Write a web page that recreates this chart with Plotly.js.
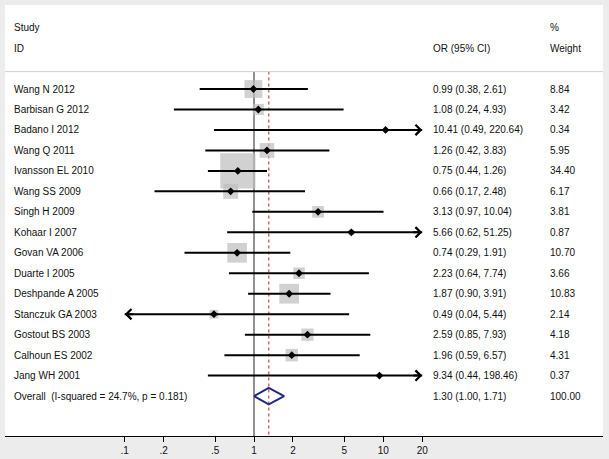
<!DOCTYPE html>
<html>
<head>
<meta charset="utf-8">
<script src="https://cdn.plot.ly/plotly-3.0.1.min.js"></script>
<style>html,body{margin:0;padding:0;background:#ececec;}</style>
</head>
<body>
<div id="chart" style="width:609px;height:459px;"></div>
<script>
// ---- data ----
const studies = ["Wang N 2012","Barbisan G 2012","Badano I 2012","Wang Q 2011","Ivansson EL 2010","Wang SS 2009","Singh H 2009","Kohaar I 2007","Govan VA 2006","Duarte I 2005","Deshpande A 2005","Stanczuk GA 2003","Gostout BS 2003","Calhoun ES 2002","Jang WH 2001"];
const oddsRatio = [0.99,1.08,10.41,1.26,0.75,0.66,3.13,5.66,0.74,2.23,1.87,0.49,2.59,1.96,9.34];
const ciLower   = [0.38,0.24,0.49,0.42,0.44,0.17,0.97,0.62,0.29,0.64,0.90,0.04,0.85,0.59,0.44];
const ciUpper   = [2.61,4.93,220.64,3.83,1.26,2.48,10.04,51.25,1.91,7.74,3.91,5.44,7.93,6.57,198.46];
const weights   = [8.84,3.42,0.34,5.95,34.40,6.17,3.81,0.87,10.70,3.66,10.83,2.14,4.18,4.31,0.37];
const overallLabel = "Overall\u00a0\u00a0(I-squared = 24.7%, p = 0.181)";
const overallOR = 1.30, overallLower = 1.00, overallUpper = 1.71, overallWeight = 100.00;
const tickVals = [0.1,0.2,0.5,1,2,5,10,20];
const tickText = [".1",".2",".5","1","2","5","10","20"];
const axisMin = 0.1, axisMax = 20;

// ---- geometry ----
const W = 609, H = 459;
const M = {l:5, r:6, t:5, b:23};
const plotW = W - M.l - M.r;
const px2paper = p => (p - M.l) / plotW;
const yTop = -4.104, yBottom = 16.95;
const xRange = [-1.9258, 2.6991];
const sepY = -0.85;
const font = {family:"Liberation Sans, Arial, sans-serif", size:10, color:"#111"};
const nRows = studies.length;
const rowY = studies.map((_, i) => i);
const overallY = nRows;

const traces = [];
// reference lines (below everything)
traces.push({x:[1,1], y:[sepY,yBottom], mode:"lines", line:{color:"#222", width:1}, hoverinfo:"skip"});
traces.push({x:[overallOR,overallOR], y:[sepY,yBottom], mode:"lines", line:{color:"#c96a66", width:1.5, dash:"3px,3px"}, hoverinfo:"skip"});
// weight boxes
traces.push({x:oddsRatio, y:rowY, mode:"markers", marker:{symbol:"square", size:weights.map(w=>6.0*Math.sqrt(w)), color:"#bdbdbd", line:{width:0}}, hoverinfo:"skip"});
// CI lines
const cx = [], cy = [];
oddsRatio.forEach((v,i)=>{
  cx.push(Math.max(ciLower[i],axisMin), Math.min(ciUpper[i],axisMax), null);
  cy.push(i,i,null);
});
traces.push({x:cx, y:cy, mode:"lines", line:{color:"#000", width:2}, hoverinfo:"skip"});
// point estimates
traces.push({x:oddsRatio, y:rowY, mode:"markers", marker:{symbol:"diamond", size:6, color:"#000"}, hoverinfo:"skip"});
// overall diamond
traces.push({x:[overallLower, overallOR, overallUpper, overallOR, overallLower],
             y:[overallY, overallY-0.4, overallY, overallY+0.4, overallY],
             mode:"lines", line:{color:"#1f2a80", width:2}, hoverinfo:"skip"});

const annotations = [];
const colName = px2paper(11.5), colOR = px2paper(430.5), colW = px2paper(548);
function txt(x, y, t){ annotations.push({xref:"paper", yref:"y", x:x, y:y, text:t, showarrow:false, xanchor:"left", yanchor:"middle", font:font}); }
txt(colName, -3, "Study"); txt(colName, -2, "ID");
txt(colOR, -2, "OR (95% CI)");
txt(colW, -3, "%"); txt(colW, -2, "Weight");
studies.forEach((s,i)=>{
  txt(colName, i, s);
  txt(colOR, i, `${oddsRatio[i].toFixed(2)} (${ciLower[i].toFixed(2)}, ${ciUpper[i].toFixed(2)})`);
  txt(colW, i, weights[i].toFixed(2));
});
txt(colName, overallY, overallLabel);
txt(colOR, overallY, `${overallOR.toFixed(2)} (${overallLower.toFixed(2)}, ${overallUpper.toFixed(2)})`);
txt(colW, overallY, overallWeight.toFixed(2));
// arrows for truncated CIs
oddsRatio.forEach((v,i)=>{
  if (ciUpper[i] > axisMax) {
    annotations.push({x:Math.log10(axisMax), y:i, ax:Math.log10(axisMax)-0.08, ay:i, xref:"x", yref:"y", axref:"x", ayref:"y",
      text:"", showarrow:true, arrowhead:4, arrowsize:1, arrowwidth:2, arrowcolor:"#000", standoff:0});
  }
  if (ciLower[i] < axisMin) {
    annotations.push({x:Math.log10(axisMin), y:i, ax:Math.log10(axisMin)+0.08, ay:i, xref:"x", yref:"y", axref:"x", ayref:"y",
      text:"", showarrow:true, arrowhead:4, arrowsize:1, arrowwidth:2, arrowcolor:"#000", standoff:0});
  }
});

const layout = {
  width:W, height:H, margin:M,
  paper_bgcolor:"#ececec", plot_bgcolor:"#ffffff",
  showlegend:false,
  xaxis:{type:"log", range:xRange, tickvals:tickVals, ticktext:tickText, ticks:"outside", ticklen:5, tickwidth:1, tickcolor:"#000",
         showline:true, linecolor:"#000", linewidth:1, showgrid:false, zeroline:false, tickfont:font, fixedrange:true},
  yaxis:{range:[yBottom, yTop], visible:false, showgrid:false, zeroline:false, fixedrange:true},
  shapes:[{type:"line", xref:"paper", yref:"y", x0:0, x1:1, y0:sepY, y1:sepY, line:{color:"#cfcfcf", width:1}}],
  annotations:annotations
};
Plotly.newPlot("chart", traces, layout, {displayModeBar:false, staticPlot:true});
</script>
</body>
</html>
